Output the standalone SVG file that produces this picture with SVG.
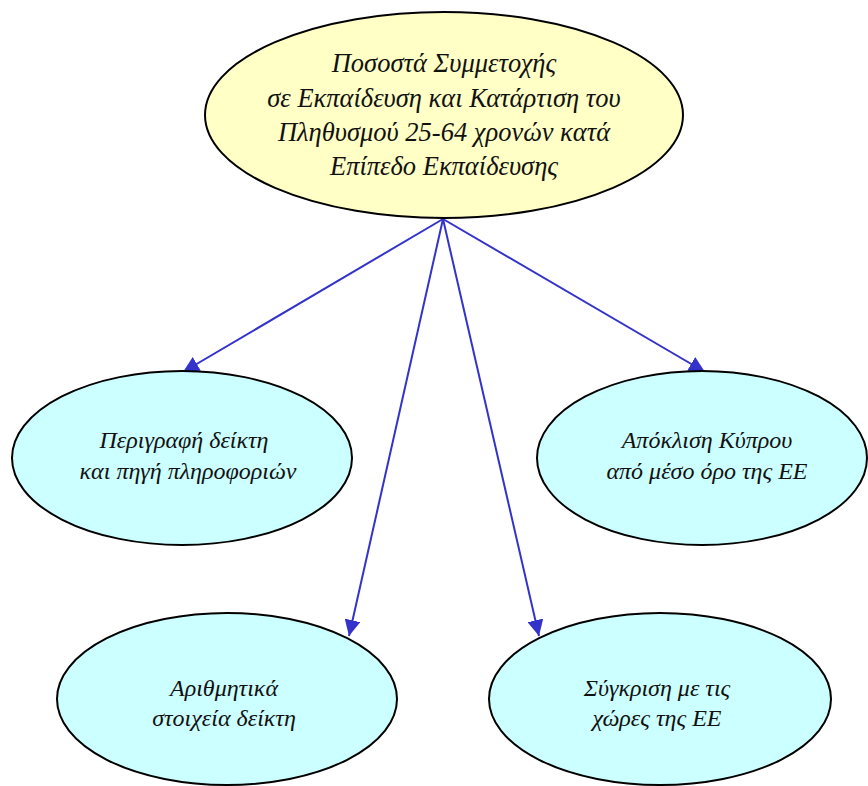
<svg xmlns="http://www.w3.org/2000/svg" width="868" height="786" viewBox="0 0 868 786">
<defs>
<style>
.node ellipse{stroke:#000;stroke-width:2}
.top ellipse{fill:#ffffc6}
.sub ellipse{fill:#ccffff}
text{font-family:"Liberation Serif","DejaVu Serif",serif;font-style:italic;fill:#111;text-anchor:middle}
.t1{font-size:26.5px}
.t2{font-size:24px}
.conn line{stroke:#3333cc;stroke-width:2;marker-end:url(#ah)}
</style>
<marker id="ah" viewBox="0 0 10 10" refX="10" refY="5" markerWidth="8" markerHeight="8" orient="auto" markerUnits="strokeWidth">
<path d="M0,0 L10,5 L0,10 z" fill="#3333cc"/>
</marker>
</defs>
<rect width="868" height="786" fill="#fff"/>
<g id="connectors" class="conn">
<line x1="443" y1="219" x2="183" y2="372"/>
<line x1="443" y1="219" x2="705" y2="372"/>
<line x1="443" y1="219" x2="349" y2="636"/>
<line x1="443" y1="219" x2="539" y2="636"/>
</g>
<g id="node-main" class="node top">
<ellipse cx="444" cy="115" rx="239" ry="103"/>
<text class="t1" x="444" y="72">Ποσοστά Συμμετοχής</text>
<text class="t1" x="444" y="107">σε Εκπαίδευση και Κατάρτιση του</text>
<text class="t1" x="444" y="141">Πληθυσμού 25-64 χρονών κατά</text>
<text class="t1" x="444" y="175">Επίπεδο Εκπαίδευσης</text>
</g>
<g id="node-description" class="node sub">
<ellipse cx="182" cy="458" rx="170" ry="87"/>
<text class="t2" x="184" y="448">Περιγραφή δείκτη</text>
<text class="t2" x="188" y="479">και πηγή πληροφοριών</text>
</g>
<g id="node-deviation" class="node sub">
<ellipse cx="702" cy="458" rx="165" ry="87"/>
<text class="t2" x="707" y="448">Απόκλιση Κύπρου</text>
<text class="t2" x="707" y="479">από μέσο όρο της ΕΕ</text>
</g>
<g id="node-numbers" class="node sub">
<ellipse cx="227" cy="699" rx="170" ry="86"/>
<text class="t2" x="224" y="696">Αριθμητικά</text>
<text class="t2" x="224" y="726">στοιχεία δείκτη</text>
</g>
<g id="node-comparison" class="node sub">
<ellipse cx="660" cy="699" rx="171" ry="86"/>
<text class="t2" x="657" y="696">Σύγκριση με τις</text>
<text class="t2" x="657" y="726">χώρες της ΕΕ</text>
</g>
</svg>
